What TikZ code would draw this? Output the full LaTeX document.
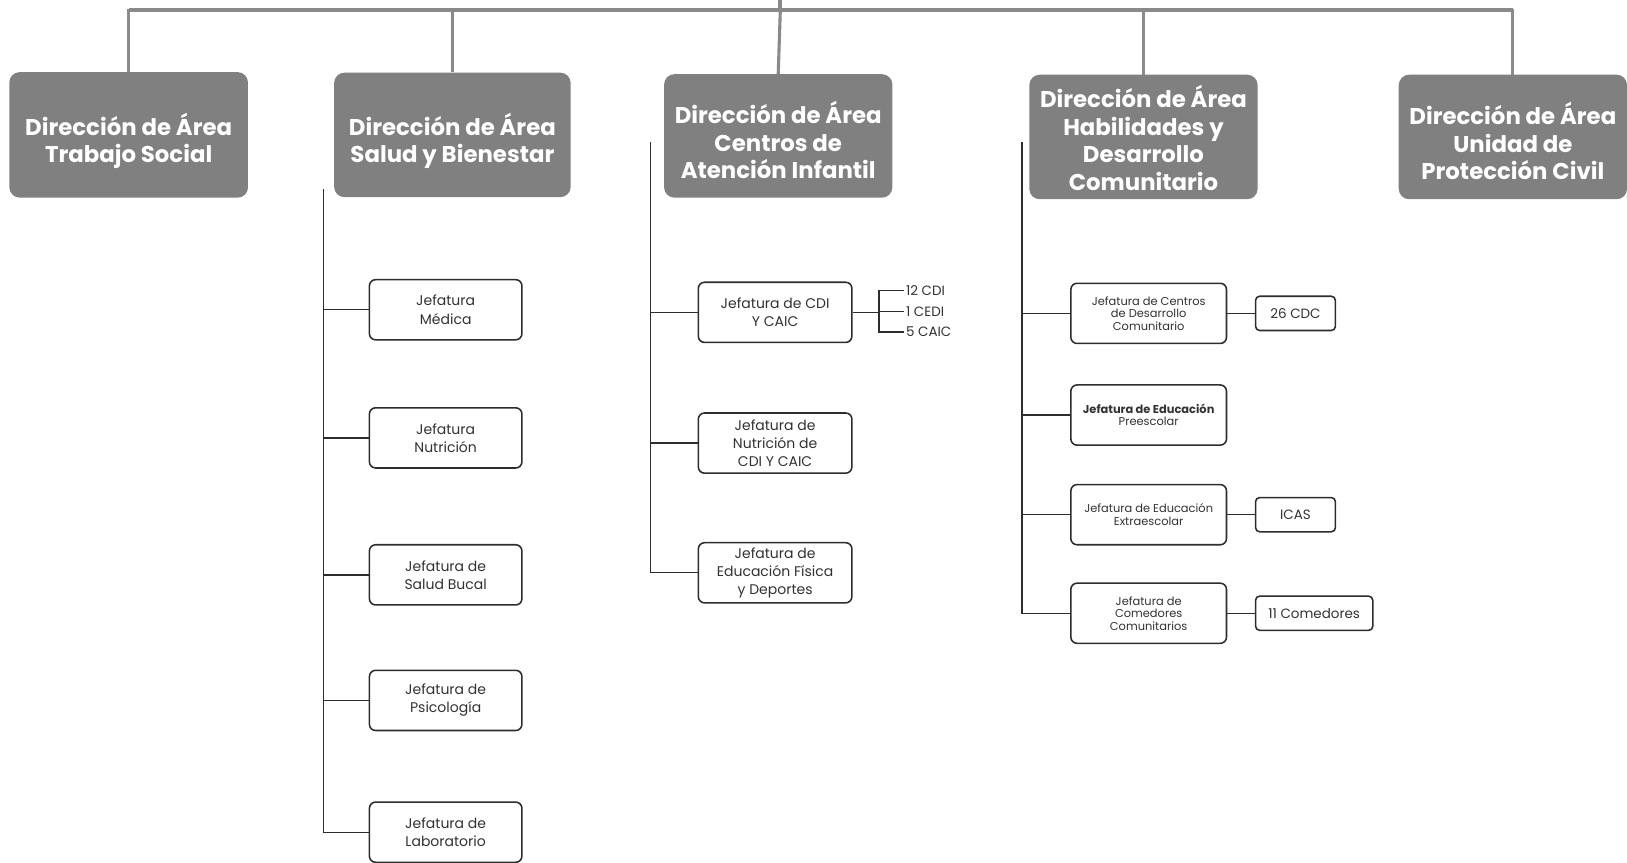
\documentclass[tikz,border=0pt]{standalone}
\usepackage{fontspec}
\setmainfont{Poppins}
\definecolor{hdrfill}{RGB}{128,128,128}
\definecolor{barcol}{RGB}{138,138,138}
\definecolor{linecol}{RGB}{45,45,45}
\definecolor{txtcol}{RGB}{50,50,50}
\begin{document}
\begin{tikzpicture}[x=1pt,y=-1pt,
  hdr/.style={draw=none,fill=hdrfill,rounded corners=10pt,inner sep=0pt},
  hdrtxt/.style={text=white,align=center,inner sep=0pt,font=\bfseries\fontsize{22}{26.5}\selectfont},
  sub/.style={draw=linecol,line width=1.5pt,fill=white,rounded corners=6pt,text=txtcol,align=center,
    inner sep=0pt,minimum height=58pt,font=\fontsize{13.5}{17.5}\selectfont},
  subs/.style={sub,font=\fontsize{11}{12}\selectfont},
  side/.style={draw=linecol,line width=1.5pt,fill=white,rounded corners=4pt,text=txtcol,align=center,
    inner sep=0pt,minimum height=33pt,font=\fontsize{13}{15}\selectfont},
  lbl/.style={anchor=west,inner sep=2pt,text=txtcol,font=\fontsize{13}{15}\selectfont},
  barline/.style={draw=barcol,line width=4pt},
  dropline/.style={draw=barcol,line width=3pt},
  tree/.style={draw=linecol,line width=1.3pt}]
\useasboundingbox (0,0) rectangle (1568,831);

% header boxes
\node[hdr,minimum width=230pt,minimum height=121pt,
  label={[hdrtxt,yshift=-6pt]center:{Dirección de Área\\Trabajo Social}}] (h1) at (124,130) {};
\node[hdr,minimum width=228pt,minimum height=120pt,
  label={[hdrtxt,yshift=-6pt]center:{Dirección de Área\\Salud y Bienestar}}] (h2) at (436,130) {};
\node[hdr,minimum width=220pt,minimum height=119pt,
  label={[hdrtxt,yshift=-4pt]center:{Dirección de Área\\Centros de\\Atención Infantil}}] (h3) at (750,131) {};
\node[hdr,minimum width=220pt,minimum height=120pt,
  label={[hdrtxt,yshift=-1pt]center:{Dirección de Área\\Habilidades y\\Desarrollo\\Comunitario}}] (h4) at (1102,132) {};
\node[hdr,minimum width=220pt,minimum height=120pt,
  label={[hdrtxt,yshift=-4pt]center:{Dirección de Área\\Unidad de\\Protección Civil}}] (h5) at (1458,132) {};

% top bar
\coordinate (stem) at (752,0);
\coordinate (bar) at (752,10);
\draw[barline] (stem) -- (bar);
\draw[dropline] (h1.north) |- (bar);
\draw[dropline] (h2.north) |- (bar);
\draw[dropline] (h3.north) -- (bar);
\draw[dropline] (h4.north) |- (bar);
\draw[dropline] (h5.north) |- (bar);
\draw[barline] (h1.north |- bar) -- (h5.north |- bar);

% column 2
\node[sub,minimum width=147pt] (s21) at (429.5,298.5) {Jefatura\\Médica};
\node[sub,minimum width=147pt] (s22) at (429.5,422) {Jefatura\\Nutrición};
\node[sub,minimum width=147pt] (s23) at (429.5,554) {Jefatura de\\Salud Bucal};
\node[sub,minimum width=147pt] (s24) at (429.5,675) {Jefatura de\\Psicología};
\node[sub,minimum width=147pt] (s25) at (429.5,802) {Jefatura de\\Laboratorio};
\coordinate (c2) at (312,182);
\draw[tree] (c2) |- (s25.west);
\foreach \n in {s21,s22,s23,s24} \draw[tree] (c2 |- \n.west) -- (\n.west);

% column 3
\node[sub,minimum width=148pt] (s31) at (747,301) {Jefatura de CDI\\Y CAIC};
\node[sub,minimum width=148pt] (s32) at (747,427) {Jefatura de\\Nutrición de\\CDI Y CAIC};
\node[sub,minimum width=148pt] (s33) at (747,552) {Jefatura de\\Educación Física\\y Deportes};
\coordinate (c3) at (627,137);
\draw[tree] (c3) |- (s33.west);
\foreach \n in {s31,s32} \draw[tree] (c3 |- \n.west) -- (\n.west);

% CDI bracket
\node[lbl] (l1) at (871,280) {12 CDI};
\node[lbl] (l2) at (871,300) {1 CEDI};
\node[lbl] (l3) at (871,320) {5 CAIC};
\coordinate (brk) at (847,301);
\draw[tree] (s31.east) -- (brk);
\draw[tree] (l1.west) -| (brk) |- (l3.west);
\draw[tree] (brk |- l2.west) -- (l2.west);

% column 4
\node[subs,minimum width=150pt] (s41) at (1107,302) {Jefatura de Centros\\de Desarrollo\\Comunitario};
\node[subs,minimum width=150pt] (s42) at (1107,400) {\bfseries Jefatura de Educación\\Preescolar};
\node[subs,minimum width=150pt] (s43) at (1107,496) {Jefatura de Educación\\Extraescolar};
\node[subs,minimum width=150pt] (s44) at (1107,591) {Jefatura de\\Comedores\\Comunitarios};
\coordinate (c4) at (985,137);
\draw[tree] (c4) |- (s44.west);
\foreach \n in {s41,s42,s43} \draw[tree] (c4 |- \n.west) -- (\n.west);

% side boxes
\node[side,minimum width=77pt] (e1) at (1248.5,302) {26 CDC};
\node[side,minimum width=77pt] (e2) at (1248.5,496) {ICAS};
\node[side,minimum width=113pt] (e3) at (1266.5,591) {11 Comedores};
\draw[tree] (s41.east) -- (e1.west);
\draw[tree] (s43.east) -- (e2.west);
\draw[tree] (s44.east) -- (e3.west);
\end{tikzpicture}
\end{document}
